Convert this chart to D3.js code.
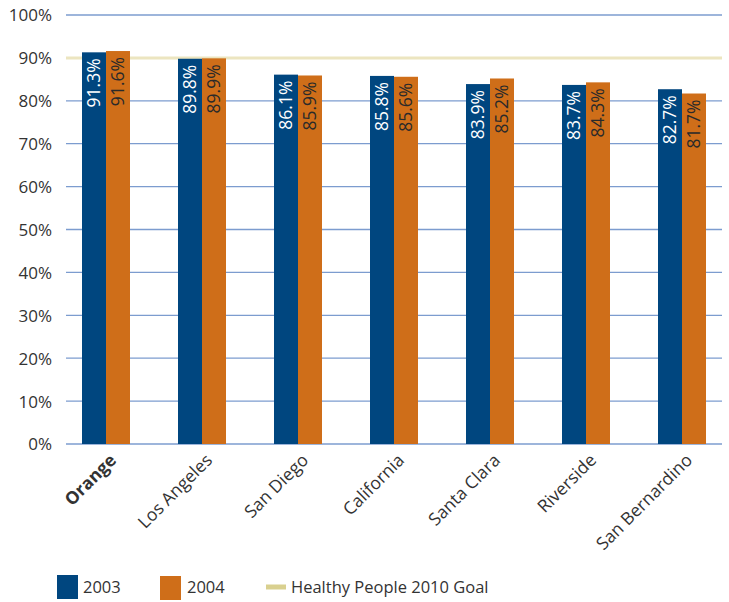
<!DOCTYPE html>
<html><head><meta charset="utf-8">
<script src="https://cdn.jsdelivr.net/npm/d3@7"></script>
<style>body{margin:0;background:#fff;} text{font-family:"Open Sans","Noto Sans",sans-serif;}</style>
</head><body>
<svg id="c" width="729" height="602"></svg>
<script>
const categories = ["Orange","Los Angeles","San Diego","California","Santa Clara","Riverside","San Bernardino"];
const values2003 = [91.3, 89.8, 86.1, 85.8, 83.9, 83.7, 82.7];
const values2004 = [91.6, 89.9, 85.9, 85.6, 85.2, 84.3, 81.7];
const seriesNames = ["2003","2004"];
const goalValue = 90;
const goalLabel = "Healthy People 2010 Goal";
const yTicks = [0,10,20,30,40,50,60,70,80,90,100];

const colors = {"2003":"#00467F","2004":"#CF6E19"};
const svg = d3.select("#c");
const y = d3.scaleLinear().domain([0,100]).range([444,15]);
const x = d3.scaleBand().domain(categories).range([58,730]).paddingInner(0.5).paddingOuter(0.25);
const xs = d3.scaleBand().domain(seriesNames).range([0,x.bandwidth()]);

// gridlines
svg.append("g").selectAll("line").data(yTicks).join("line")
  .attr("x1",66).attr("x2",722).attr("y1",d=>y(d)).attr("y2",d=>y(d))
  .attr("stroke","#7C9CCF").attr("stroke-width",1.3);

// goal line (behind bars)
svg.append("line").attr("x1",66).attr("x2",722).attr("y1",y(goalValue)).attr("y2",y(goalValue))
  .attr("stroke","#ECE5C0").attr("stroke-width",3);

// y axis labels
const yAxis = d3.axisLeft(y).tickValues(yTicks).tickFormat(d=>d+"%").tickSize(0).tickPadding(0);
const ya = svg.append("g").attr("transform","translate(52,0)").call(yAxis);
ya.select(".domain").remove();
ya.selectAll("text").attr("font-size",17).attr("fill","#333").attr("font-family","'Open Sans',sans-serif").attr("dy","0.35em");

// bars
const data = categories.map((c,i)=>({c, vals:[{s:"2003",v:values2003[i]},{s:"2004",v:values2004[i]}]}));
const g = svg.append("g").selectAll("g").data(data).join("g").attr("transform",d=>`translate(${x(d.c)},0)`);
g.selectAll("rect").data(d=>d.vals).join("rect")
  .attr("x",d=>xs(d.s)).attr("width",xs.bandwidth())
  .attr("y",d=>y(d.v)).attr("height",d=>y(0)-y(d.v))
  .attr("fill",d=>colors[d.s]);
g.selectAll("text").data(d=>d.vals).join("text")
  .attr("transform",d=>`translate(${xs(d.s)+xs.bandwidth()/2},${y(d.v)+6}) rotate(-90)`)
  .attr("text-anchor","end").attr("dy","0.35em")
  .attr("font-size",17.5)
  .attr("fill",d=>d.s==="2003"?"#fff":"#2a2a2a")
  .text(d=>d.v.toFixed(1)+"%");

// x labels
svg.append("g").selectAll("text").data(categories).join("text")
  .attr("transform",d=>`translate(${x(d)+x.bandwidth()/2+7},${457}) rotate(-45)`)
  .attr("text-anchor","end").attr("dy","0.35em")
  .attr("font-size",17.5).attr("fill","#333")
  .attr("font-weight",(d,i)=>i===0?"bold":"normal")
  .text(d=>d);

// legend
const lg = svg.append("g");
lg.append("rect").attr("x",57).attr("y",575).attr("width",21).attr("height",24).attr("fill",colors["2003"]);
lg.append("text").attr("x",83).attr("y",587).attr("dy","0.35em").attr("font-size",16.5).attr("fill","#333").text(seriesNames[0]);
lg.append("rect").attr("x",160).attr("y",576).attr("width",21).attr("height",24).attr("fill",colors["2004"]);
lg.append("text").attr("x",187).attr("y",587).attr("dy","0.35em").attr("font-size",16.5).attr("fill","#333").text(seriesNames[1]);
lg.append("line").attr("x1",266).attr("x2",286).attr("y1",587).attr("y2",587).attr("stroke","#D9D08F").attr("stroke-width",5);
lg.append("text").attr("x",291).attr("y",587).attr("dy","0.35em").attr("font-size",16.5).attr("fill","#333").text(goalLabel);
</script>
</body></html>
